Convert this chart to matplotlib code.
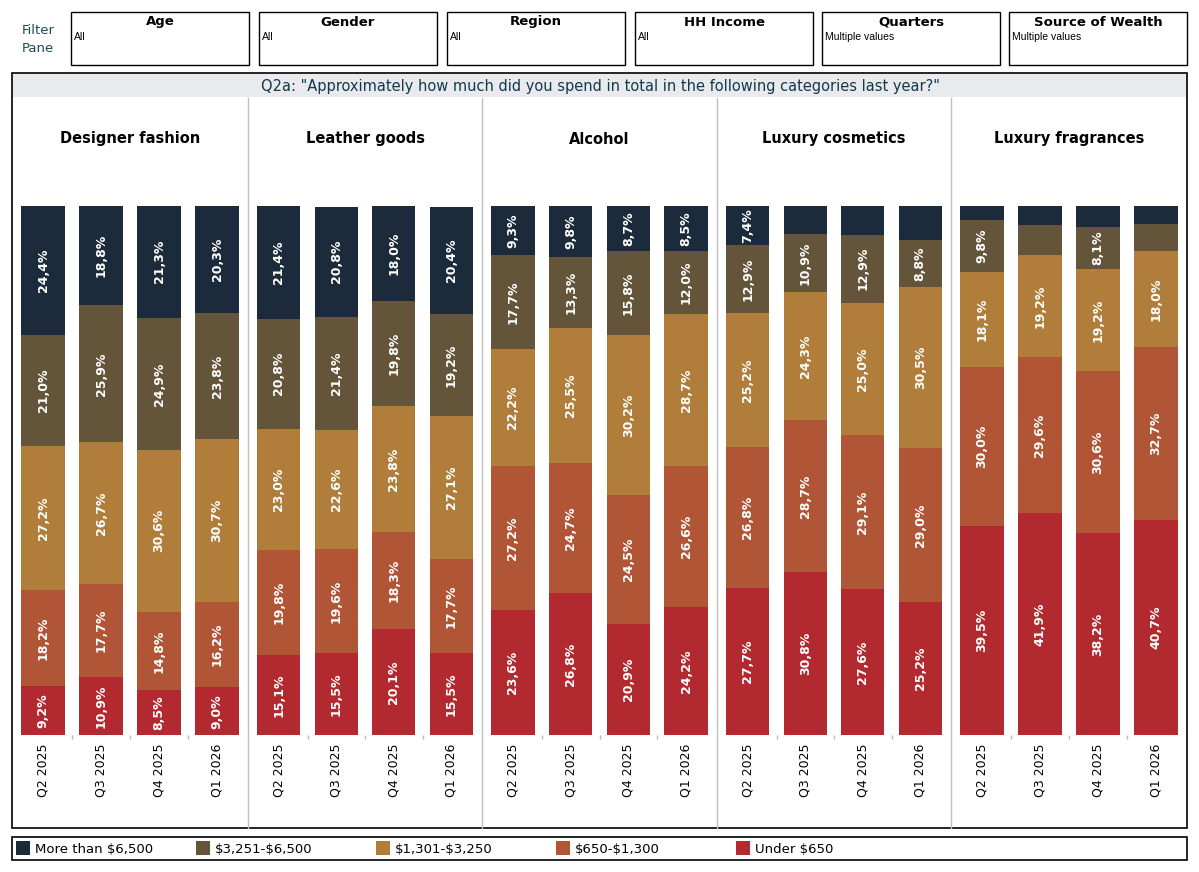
import numpy as np
import matplotlib
matplotlib.use("Agg")
import matplotlib.pyplot as plt
from matplotlib.patches import Rectangle

W, H = 1199, 872

# data (percent of respondents), one list per spend band, 4 quarters per category
categories = ["Designer fashion", "Leather goods", "Alcohol", "Luxury cosmetics", "Luxury fragrances"]
quarters = ["Q2 2025", "Q3 2025", "Q4 2025", "Q1 2026"]
bands = ["More than $6,500", "$3,251-$6,500", "$1,301-$3,250", "$650-$1,300", "Under $650"]
band_colors = ["#1b2b3b", "#64543a", "#b07d3a", "#b05536", "#b22a30"]

under_650 = [[9.2, 10.9, 8.5, 9.0],
             [15.1, 15.5, 20.1, 15.5],
             [23.6, 26.8, 20.9, 24.2],
             [27.7, 30.8, 27.6, 25.2],
             [39.5, 41.9, 38.2, 40.7]]
b650_1300 = [[18.2, 17.7, 14.8, 16.2],
             [19.8, 19.6, 18.3, 17.7],
             [27.2, 24.7, 24.5, 26.6],
             [26.8, 28.7, 29.1, 29.0],
             [30.0, 29.6, 30.6, 32.7]]
b1301_3250 = [[27.2, 26.7, 30.6, 30.7],
              [23.0, 22.6, 23.8, 27.1],
              [22.2, 25.5, 30.2, 28.7],
              [25.2, 24.3, 25.0, 30.5],
              [18.1, 19.2, 19.2, 18.0]]
b3251_6500 = [[21.0, 25.9, 24.9, 23.8],
              [20.8, 21.4, 19.8, 19.2],
              [17.7, 13.3, 15.8, 12.0],
              [12.9, 10.9, 12.9, 8.8],
              [9.8, 5.7, 8.1, 5.2]]
over_6500 = [[24.4, 18.8, 21.3, 20.3],
             [21.4, 20.8, 18.0, 20.4],
             [9.3, 9.8, 8.7, 8.5],
             [7.4, 5.3, 5.4, 6.5],
             [2.6, 3.6, 3.9, 3.4]]

filters = ["Age", "Gender", "Region", "HH Income", "Quarters", "Source of Wealth"]
filter_values = ["All", "All", "All", "All", "Multiple values", "Multiple values"]

title = 'Q2a: "Approximately how much did you spend in total in the following categories last year?"'


def px(x0, y0, x1, y1):
    return [x0 / W, 1 - y1 / H, (x1 - x0) / W, (y1 - y0) / H]


fig = plt.figure(figsize=(W / 100, H / 100), dpi=100)

# background canvas in pixel coordinates
bg = fig.add_axes([0, 0, 1, 1])
bg.set_xlim(0, W)
bg.set_ylim(H, 0)
bg.axis("off")

# filter pane
bg.text(38, 30, "Filter", ha="center", va="center", fontsize=9.5, color="#1e4a5a")
bg.text(38, 48, "Pane", ha="center", va="center", fontsize=9.5, color="#1e4a5a")
fx = [71, 259, 447, 635, 822, 1009]
for i, name in enumerate(filters):
    x0 = fx[i]
    bg.add_patch(Rectangle((x0, 12), 178, 53, fill=False, ec="black", lw=1))
    bg.text(x0 + 89, 22, name, ha="center", va="center", fontsize=9.5, fontweight="bold")
    bg.text(x0 + 3, 37, filter_values[i], ha="left", va="center", fontsize=7.5,
            family="Liberation Sans")

# main frame + title bar
bg.add_patch(Rectangle((13, 74), 1174, 23, fc="#e8eaee", ec="none"))
bg.add_patch(Rectangle((12, 73), 1175, 755, fill=False, ec="black", lw=1.2))
bg.text(600, 86, title, ha="center", va="center", fontsize=10.5, color="#15384a")

# panel separators
seps = [12, 248, 482, 717, 951, 1187]
for s in seps[1:-1]:
    bg.plot([s, s], [98, 828], color="#c0c0c0", lw=1)

# legend
bg.add_patch(Rectangle((12, 837), 1175, 23, fill=False, ec="black", lw=1.2))
for i, b in enumerate(bands):
    lx = 16 + i * 180
    bg.add_patch(Rectangle((lx, 841), 14, 14, fc=band_colors[i], ec="none"))
    bg.text(lx + 19, 849, b.replace("$", r"\$"), ha="left", va="center", fontsize=9.5)

stack = [under_650, b650_1300, b1301_3250, b3251_6500, over_6500]
stack_colors = band_colors[::-1]

for c, cat in enumerate(categories):
    x0, x1 = seps[c], seps[c + 1]
    bg.text((x0 + x1) / 2, 139, cat, ha="center", va="center", fontsize=10.5, fontweight="bold")
    ax = fig.add_axes(px(x0 + 2, 206, x1 - 2, 735))
    ax.set_xlim(-0.5, 3.5)
    ax.set_ylim(0, 100)
    ax.patch.set_alpha(0)
    for sp in ax.spines.values():
        sp.set_visible(False)
    x = np.arange(len(quarters))
    bottom = np.zeros(len(quarters))
    for k, series in enumerate(stack):
        vals = np.array(series[c])
        ax.bar(x, vals, width=0.75, bottom=bottom, color=stack_colors[k], linewidth=0)
        for xi, v, b0 in zip(x, vals, bottom):
            if v >= 7:
                ax.text(xi, b0 + v / 2, ("%.1f%%" % v).replace(".", ","), rotation=90,
                        ha="center", va="center", color="white", fontsize=9, fontweight="bold")
        bottom += vals
    ax.set_yticks([])
    ax.set_xticks(x)
    ax.set_xticklabels(quarters, rotation=90, fontsize=9, va="top")
    ax.tick_params(axis="x", length=0, pad=6)
    ax.set_xticks([0.5, 1.5, 2.5], minor=True)
    ax.tick_params(axis="x", which="minor", length=3, color="#bbbbbb", width=1)

fig.savefig("out.png", dpi=100)
